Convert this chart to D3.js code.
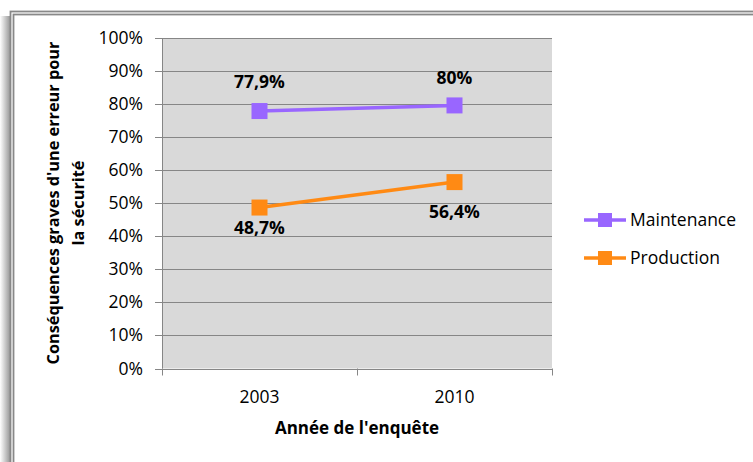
<!DOCTYPE html>
<html><head><meta charset="utf-8">
<script src="https://cdn.jsdelivr.net/npm/d3@7"></script>
<style>
html,body{margin:0;padding:0;background:#fff;}
svg{display:block;}
text{font-family:"Open Sans",sans-serif;fill:#000;}
</style></head>
<body>
<script>
const years = ["2003", "2010"];
const maintenance = [77.9, 79.6];
const production = [48.7, 56.4];
const maintenanceLabels = ["77,9%", "80%"];
const productionLabels = ["48,7%", "56,4%"];
const yTicks = [0, 10, 20, 30, 40, 50, 60, 70, 80, 90, 100];
const seriesNames = ["Maintenance", "Production"];
const yTitle = ["Conséquences graves d'une erreur pour", "la sécurité"];
const xTitle = "Année de l'enquête";

const W = 753, H = 462;
const svg = d3.select("body").append("svg").attr("width", W).attr("height", H);

// frame & shadow
const defs = svg.append("defs");
const g1 = defs.append("linearGradient").attr("id", "shL").attr("x1", 0).attr("x2", 1).attr("y1", 0).attr("y2", 0);
g1.append("stop").attr("offset", "0%").attr("stop-color", "#fff");
g1.append("stop").attr("offset", "100%").attr("stop-color", "#999");
svg.append("rect").attr("x", 0).attr("y", 16).attr("width", 10).attr("height", H - 16).attr("fill", "url(#shL)");
svg.append("rect").attr("x", 10.5).attr("y", 11.5).attr("width", W + 20).attr("height", H + 20)
  .attr("fill", "none").attr("stroke", "#888", ).attr("stroke-width", 1.8);
svg.append("rect").attr("x", 13.5).attr("y", 14.5).attr("width", W + 20).attr("height", H + 20)
  .attr("fill", "#fff").attr("stroke", "#888").attr("stroke-width", 1.8);

const x0 = 162, x1 = 552, yTop = 38, yBot = 368.5;
const x = d3.scalePoint().domain(years).range([x0, x1]).padding(0.5);
const xb = d3.scaleBand().domain(years).range([x0, x1]);
const y = d3.scaleLinear().domain([0, 100]).range([yBot, yTop]);

svg.append("rect").attr("x", x0).attr("y", yTop).attr("width", x1 - x0).attr("height", yBot - yTop).attr("fill", "#d9d9d9");

// gridlines
svg.append("g").selectAll("line").data(yTicks).join("line")
  .attr("x1", x0 - 7).attr("x2", x1).attr("y1", d => Math.round(y(d)) + 0.5).attr("y2", d => Math.round(y(d)) + 0.5)
  .attr("stroke", "#868686").attr("stroke-width", 1);
// y axis line
svg.append("line").attr("x1", x0 + 0.5).attr("x2", x0 + 0.5).attr("y1", yTop).attr("y2", yBot).attr("stroke", "#868686");
// x ticks
const xEdges = [x0, ...years.map(d => xb(d) + xb.bandwidth())];
svg.append("g").selectAll("line").data(xEdges).join("line")
  .attr("x1", d => Math.round(d) + 0.5).attr("x2", d => Math.round(d) + 0.5)
  .attr("y1", yBot).attr("y2", yBot + 7).attr("stroke", "#868686");

// y tick labels
svg.append("g").selectAll("text").data(yTicks).join("text")
  .attr("x", 143).attr("y", d => y(d) + 6).attr("text-anchor", "end")
  .attr("font-size", 17.5).text(d => d + "%");
// x tick labels
svg.append("g").selectAll("text").data(years).join("text")
  .attr("x", d => x(d)).attr("y", 403).attr("text-anchor", "middle")
  .attr("font-size", 17.5).text(d => d);

// axis titles
svg.append("text").attr("x", x(years[0]) + (x(years[1]) - x(years[0])) / 2).attr("y", 434)
  .attr("text-anchor", "middle").attr("font-size", 17).attr("font-weight", "bold").text(xTitle);
const yt = svg.append("text").attr("transform", "translate(0,203) rotate(-90)")
  .attr("text-anchor", "middle").attr("font-size", 16.3).attr("font-weight", "bold");
yt.append("tspan").attr("x", 0).attr("y", 59).text(yTitle[0]);
yt.append("tspan").attr("x", 0).attr("y", 84).text(yTitle[1]);

const series = [
  {name: seriesNames[0], vals: maintenance, labels: maintenanceLabels, color: "#9966ff", dy: [-23, -21]},
  {name: seriesNames[1], vals: production, labels: productionLabels, color: "#ff8a14", dy: [26, 36]}
];
const line = d3.line().x((d, i) => x(years[i])).y(d => y(d));
const ms = 16;
series.forEach(s => {
  svg.append("path").datum(s.vals).attr("d", line).attr("fill", "none")
    .attr("stroke", s.color).attr("stroke-width", 3.5);
  svg.append("g").selectAll("rect").data(s.vals).join("rect")
    .attr("x", (d, i) => x(years[i]) - ms / 2).attr("y", d => y(d) - ms / 2)
    .attr("width", ms).attr("height", ms).attr("fill", s.color);
  svg.append("g").selectAll("text").data(s.vals).join("text")
    .attr("x", (d, i) => x(years[i])).attr("y", (d, i) => y(d) + s.dy[i])
    .attr("text-anchor", "middle").attr("font-size", 17.5).attr("font-weight", "bold")
    .text((d, i) => s.labels[i]);
});

// legend
const leg = svg.append("g");
series.forEach((s, i) => {
  const ly = 220 + i * 38;
  leg.append("line").attr("x1", 584).attr("x2", 626).attr("y1", ly).attr("y2", ly)
    .attr("stroke", s.color).attr("stroke-width", 3.5);
  leg.append("rect").attr("x", 605 - 7).attr("y", ly - 7).attr("width", 14).attr("height", 14).attr("fill", s.color);
  leg.append("text").attr("x", 630).attr("y", ly + 6).attr("font-size", 17.5).text(s.name);
});
</script>
</body></html>
